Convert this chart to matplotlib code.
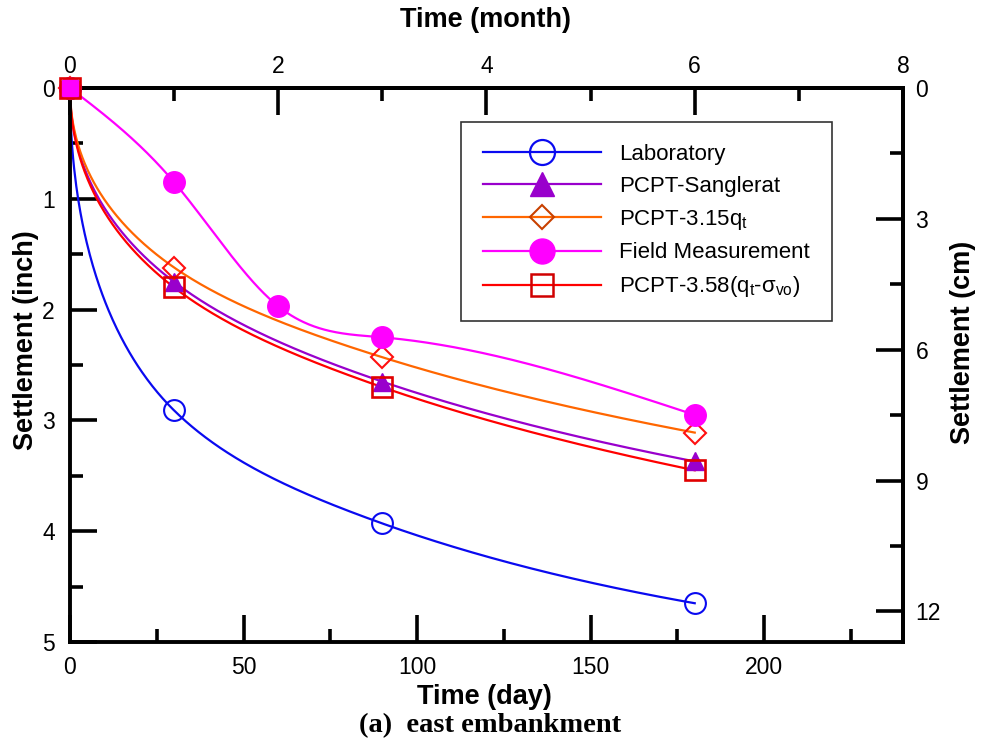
import numpy as np
import matplotlib
matplotlib.use("Agg")
import matplotlib.pyplot as plt
from matplotlib.lines import Line2D
from matplotlib.ticker import MultipleLocator

plt.rcParams['font.family'] = ['Liberation Sans', 'DejaVu Sans']
plt.rcParams['mathtext.fontset'] = 'custom'
plt.rcParams['mathtext.rm'] = 'Liberation Sans'
plt.rcParams['mathtext.it'] = 'Liberation Sans'
plt.rcParams['mathtext.sf'] = 'Liberation Sans'

# Settlement (inch) versus time (day)
days_lab = [0, 30, 90, 180]
settle_lab = [0.0, 2.91, 3.93, 4.65]

days_sang = [0, 30, 90, 180]
settle_sang = [0.0, 1.75, 2.65, 3.37]

days_315 = [0, 30, 90, 180]
settle_315 = [0.0, 1.62, 2.43, 3.11]

days_field = [0, 30, 60, 90, 180]
settle_field = [0.0, 0.85, 1.97, 2.25, 2.95]

days_358 = [0, 30, 90, 180]
settle_358 = [0.0, 1.80, 2.70, 3.45]

labels = ["Laboratory", "PCPT-Sanglerat", r"PCPT-3.15q$_\mathregular{t}$",
          "Field Measurement", r"PCPT-3.58(q$_\mathregular{t}$-$\sigma_\mathregular{vo}$)"]

month_ticks = [0, 2, 4, 6, 8]
day_ticks = [0, 50, 100, 150, 200]
inch_ticks = [0, 1, 2, 3, 4, 5]
cm_ticks = [0, 3, 6, 9, 12]


def pchip(x, y, xs):
    x = np.asarray(x, float); y = np.asarray(y, float)
    h = np.diff(x); d = np.diff(y) / h
    n = len(x)
    m = np.zeros(n)
    for k in range(1, n - 1):
        if d[k - 1] * d[k] > 0:
            w1 = 2 * h[k] + h[k - 1]; w2 = h[k] + 2 * h[k - 1]
            m[k] = (w1 + w2) / (w1 / d[k - 1] + w2 / d[k])
    def end(h0, h1, d0, d1):
        s = ((2 * h0 + h1) * d0 - h0 * d1) / (h0 + h1)
        if np.sign(s) != np.sign(d0):
            s = 0.0
        elif np.sign(d0) != np.sign(d1) and abs(s) > abs(3 * d0):
            s = 3 * d0
        return s
    m[0] = end(h[0], h[1], d[0], d[1])
    m[-1] = end(h[-1], h[-2], d[-1], d[-2])
    idx = np.clip(np.searchsorted(x, xs) - 1, 0, n - 2)
    t = (xs - x[idx]) / h[idx]
    h00 = 2 * t**3 - 3 * t**2 + 1; h10 = t**3 - 2 * t**2 + t
    h01 = -2 * t**3 + 3 * t**2; h11 = t**3 - t**2
    return h00 * y[idx] + h10 * h[idx] * m[idx] + h01 * y[idx + 1] + h11 * h[idx] * m[idx + 1]


def natural_spline(x, y, xs):
    x = np.asarray(x, float); y = np.asarray(y, float)
    n = len(x); h = np.diff(x)
    A = np.zeros((n, n)); b = np.zeros(n)
    A[0, 0] = A[-1, -1] = 1
    for i in range(1, n - 1):
        A[i, i - 1] = h[i - 1]; A[i, i] = 2 * (h[i - 1] + h[i]); A[i, i + 1] = h[i]
        b[i] = 6 * ((y[i + 1] - y[i]) / h[i] - (y[i] - y[i - 1]) / h[i - 1])
    M = np.linalg.solve(A, b)
    idx = np.clip(np.searchsorted(x, xs) - 1, 0, n - 2)
    xi, xj = x[idx], x[idx + 1]; hi = h[idx]
    return (M[idx] * (xj - xs)**3 / (6 * hi) + M[idx + 1] * (xs - xi)**3 / (6 * hi)
            + (y[idx] / hi - M[idx] * hi / 6) * (xj - xs)
            + (y[idx + 1] / hi - M[idx + 1] * hi / 6) * (xs - xi))


def sqrt_time_curve(x, y):
    xs = np.linspace(0, max(x), 600)
    return xs, pchip(np.sqrt(x), y, np.sqrt(xs))


fig = plt.figure(figsize=(9.83, 7.53), dpi=100)
ax = fig.add_axes([0.0712, 0.1474, 0.8474, 0.7357])

c_lab = "#0a0af0"
c_sang = "#9900cc"
c_315 = "#ff6600"
c_field = "#ff00ff"
c_358 = "#ff0000"
lw = 1.6

xs, ys = sqrt_time_curve(days_lab, settle_lab)
ax.plot(xs, ys, color=c_lab, lw=lw, zorder=2)
xs, ys = sqrt_time_curve(days_sang, settle_sang)
ax.plot(xs, ys, color=c_sang, lw=lw, zorder=2)
xs, ys = sqrt_time_curve(days_315, settle_315)
ax.plot(xs, ys, color=c_315, lw=lw, zorder=2)
xs = np.linspace(0, 180, 600)
ax.plot(xs, natural_spline(days_field, settle_field, xs), color=c_field, lw=lw, zorder=2)
xs, ys = sqrt_time_curve(days_358, settle_358)
ax.plot(xs, ys, color=c_358, lw=lw, zorder=2)

ax.plot(days_lab, settle_lab, 'o', ms=15, mfc='none', mec=c_lab, mew=1.5, zorder=3, clip_on=False)
ax.plot(days_sang, settle_sang, '^', ms=13.5, mfc=c_sang, mec=c_sang, zorder=3, clip_on=False)
ax.plot(days_315, settle_315, 'D', ms=11, mfc='none', mec='#ff1010', mew=1.5, zorder=3, clip_on=False)
ax.plot(days_field, settle_field, 'o', ms=15.5, mfc=c_field, mec=c_field, zorder=4, clip_on=False)
ax.plot(days_358, settle_358, 's', ms=15, mfc='none', mec='#e00000', mew=1.9, zorder=5, clip_on=False)

ax.set_xlim(0, 240)
ax.set_ylim(5, 0)
ax.set_xticks(day_ticks)
ax.set_yticks(inch_ticks)
ax.xaxis.set_minor_locator(MultipleLocator(25))
ax.yaxis.set_minor_locator(MultipleLocator(0.5))

for s in ax.spines.values():
    s.set_linewidth(2.8)

maj = dict(which='major', direction='in', length=19.5, width=2.6, labelsize=16.5)
mnr = dict(which='minor', direction='in', length=9.5, width=2.6)
ax.tick_params(axis='x', pad=10, **maj)
ax.tick_params(axis='y', pad=11, **maj)
ax.tick_params(**mnr)

lab_font = dict(fontsize=19.5, fontweight='bold')
ax.set_xlabel("Time (day)", **lab_font)
ax.xaxis.label.set_verticalalignment('center')
ax.xaxis.set_label_coords(0.498, -0.099)
ax.set_ylabel("Settlement (inch)", **lab_font)
ax.yaxis.label.set_verticalalignment('center')
ax.yaxis.set_label_coords(-0.053, 0.545)

# month scale on top
axt = ax.secondary_xaxis('top', functions=(lambda d: d / 30.0, lambda m: m * 30.0))
axt.set_xticks(month_ticks)
axt.xaxis.set_minor_locator(MultipleLocator(1))
axt.tick_params(pad=7, **maj)
axt.tick_params(**mnr)
axt.spines['top'].set_linewidth(2.8)
fig.text(0.4944, 0.9734, "Time (month)", ha='center', va='center', **lab_font)

# centimetre scale on right
axr = ax.secondary_yaxis('right', functions=(lambda i: i * 2.54, lambda c: c / 2.54))
axr.set_yticks(cm_ticks)
axr.yaxis.set_minor_locator(MultipleLocator(1.5))
axr.tick_params(pad=9, **maj)
axr.tick_params(**mnr)
axr.spines['right'].set_linewidth(2.8)
fig.text(0.9797, 0.5458, "Settlement (cm)", ha='center', va='center', rotation=90, **lab_font)

handles = [
    Line2D([], [], color=c_lab, lw=lw, marker='o', ms=18, mfc='none', mec=c_lab, mew=1.6),
    Line2D([], [], color=c_sang, lw=lw, marker='^', ms=17, mfc=c_sang, mec=c_sang),
    Line2D([], [], color=c_315, lw=lw, marker='D', ms=12, mfc='none', mec='#c84000', mew=1.5),
    Line2D([], [], color=c_field, lw=lw, marker='o', ms=18, mfc=c_field, mec=c_field),
    Line2D([], [], color=c_358, lw=lw, marker='s', ms=16.5, mfc='none', mec='#d00000', mew=1.8),
]
leg = ax.legend(handles, labels, loc='upper left', bbox_to_anchor=(0.4694, 0.9386),
                fontsize=16, frameon=True, fancybox=False, edgecolor='black',
                handlelength=5.3, handletextpad=0.85, labelspacing=0.49,
                borderpad=0.98, borderaxespad=0.0)
leg.get_frame().set_linewidth(1.2)

fig.text(0.4985, 0.036, "(a)  east embankment", ha='center', va='center',
         fontsize=20.5, fontweight='bold', family=['Liberation Serif', 'DejaVu Serif'])

fig.savefig("out.png", dpi=100)
